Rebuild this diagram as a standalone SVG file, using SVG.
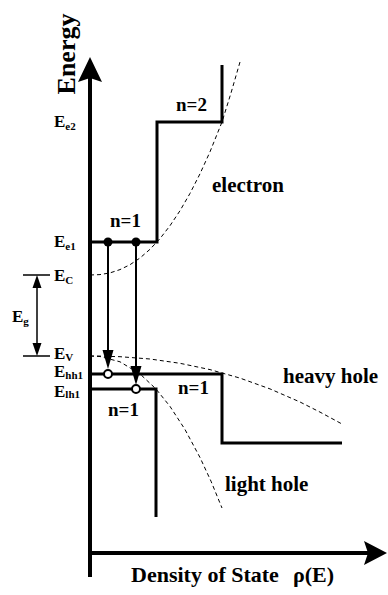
<svg xmlns="http://www.w3.org/2000/svg" width="388" height="595" viewBox="0 0 388 595">
<style>
text{font-family:"Liberation Serif","Times New Roman",serif;font-weight:bold;fill:#000}
.lbl{font-size:17px}
.sub{font-size:11px}
.n{font-size:19px}
.band{font-size:21px}
.step{fill:none;stroke:#000;stroke-width:3}
.axis{fill:none;stroke:#000;stroke-width:4}
.dash{fill:none;stroke:#000;stroke-width:1;stroke-dasharray:4 3}
.thin{fill:none;stroke:#000;stroke-width:1.5}
.trans{fill:none;stroke:#000;stroke-width:2}
</style>
<rect width="388" height="595" fill="#fff"/>
<g id="axes">
<line class="axis" x1="90" y1="577" x2="90" y2="74"/>
<path d="M90,57 L102,82 L90,78 L78,82 Z" fill="#000"/>
<line class="axis" x1="88" y1="553" x2="370" y2="553"/>
<path d="M387,553 L364,541 L368,553 L364,565 Z" fill="#000"/>
<text transform="translate(75,54) rotate(-90)" text-anchor="middle" style="font-size:26px">Energy</text>
<text x="131" y="582" style="font-size:22px">Density of State</text>
<text x="293" y="582" style="font-size:22px">ρ(E)</text>
</g>
<g id="curves">
<polyline class="dash" points="90,275 100,274.6 110,272.9 120,269.6 130,264.7 140,258 150,249.3 160,238.6 170,225.7 180,210.7 190,193.4 200,173.8 210,151.8 222,122 231,93 240,62"/>
<polyline class="dash" points="90,356 100,356.1 120,356.7 150,359 180,363.3 210,369.6 240,378.1 270,388.9 300,402 320,412.1 342,424"/>
<polyline class="dash" points="90,356 100,356.5 120,361.8 140,373.9 156,389 170,406.4 185,429.5 200,457.5 211,481.2 222,508"/>
</g>
<g id="electron-band">
<polyline class="step" points="90,242 157,242 157,122 222,122 222,65"/>
<text class="n" x="176" y="111">n=2</text>
<text class="n" x="110" y="227">n=1</text>
<text class="band" x="212" y="192">electron</text>
</g>
<g id="heavy-hole-band">
<polyline class="step" points="90,374 222,374 222,443 342,443"/>
<text class="n" x="178" y="394">n=1</text>
<text class="band" x="283" y="383">heavy hole</text>
</g>
<g id="light-hole-band">
<polyline class="step" points="90,389 156,389 156,517"/>
<text class="n" x="108" y="416">n=1</text>
<text class="band" x="225" y="491">light hole</text>
</g>
<g id="transitions">
<line class="trans" x1="108" y1="242" x2="108" y2="352"/>
<path d="M108,369 L102.5,350 L113.5,350 Z" fill="#000"/>
<line class="trans" x1="136" y1="242" x2="136" y2="368"/>
<path d="M136,385 L130.5,366 L141.5,366 Z" fill="#000"/>
<circle cx="108" cy="242" r="4.5" fill="#000"/>
<circle cx="136" cy="242" r="4.5" fill="#000"/>
<circle cx="108" cy="374" r="4" fill="#fff" stroke="#000" stroke-width="2"/>
<circle cx="136" cy="389" r="4" fill="#fff" stroke="#000" stroke-width="2"/>
</g>
<g id="gap">
<line class="thin" x1="23" y1="275" x2="50" y2="275"/>
<line class="thin" x1="23" y1="356" x2="50" y2="356"/>
<line class="thin" x1="37" y1="285" x2="37" y2="346"/>
<path d="M37,275 L32.5,288 L41.5,288 Z" fill="#000"/>
<path d="M37,356 L32.5,343 L41.5,343 Z" fill="#000"/>
<text class="lbl" x="12" y="322">E<tspan class="sub" dy="3">g</tspan></text>
</g>
<g id="levels">
<text class="lbl" x="54" y="127">E<tspan class="sub" dy="3">e2</tspan></text>
<text class="lbl" x="54" y="247">E<tspan class="sub" dy="3">e1</tspan></text>
<text class="lbl" x="54" y="281">E<tspan class="sub" dy="3">C</tspan></text>
<text class="lbl" x="54" y="359">E<tspan class="sub" dy="2">V</tspan></text>
<text class="lbl" x="54" y="377">E<tspan class="sub" dy="2">hh1</tspan></text>
<text class="lbl" x="54" y="397">E<tspan class="sub" dy="1">lh1</tspan></text>
</g>
</svg>
